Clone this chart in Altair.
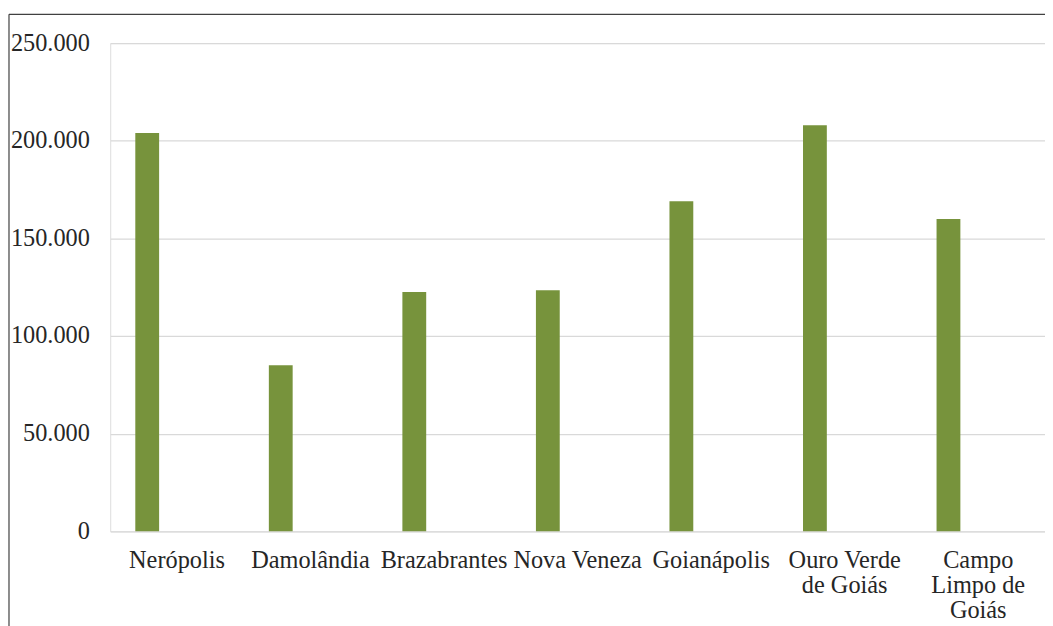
import altair as alt
import pandas as pd

municipios = ["Nerópolis", "Damolândia", "Brazabrantes", "Nova Veneza",
              "Goianápolis", "Ouro Verde de Goiás", "Campo Limpo de Goiás"]
valores = [204000, 85000, 122500, 123500, 169000, 208000, 160000]
rotulos = [["Nerópolis"], ["Damolândia"], ["Brazabrantes"], ["Nova Veneza"],
           ["Goianápolis"], ["Ouro Verde", "de Goiás"], ["Campo", "Limpo de", "Goiás"]]
y_ticks = [0, 50000, 100000, 150000, 200000, 250000]

df = pd.DataFrame({"municipio": municipios, "valor": valores})

parts = []
for m, r in zip(municipios, rotulos):
    arr = "[" + ",".join("'" + s + "'" for s in r) + "]"
    parts.append("datum.value == '" + m + "' ? " + arr + " : ")
label_expr = "".join(parts) + "datum.label"

FONT = "Liberation Serif"
TEXT = "#262626"

bars = alt.Chart(df).mark_bar(color="#77933C", width=24, xOffset=-30).encode(
    x=alt.X("municipio:N", sort=municipios,
            scale=alt.Scale(paddingInner=0, paddingOuter=0),
            axis=alt.Axis(title=None, labelExpr=label_expr, labelFont=FONT,
                          labelFontSize=24.5, labelColor=TEXT, labelLineHeight=25.5,
                          labelPadding=17, ticks=False, domain=False, labelAngle=0,
                          grid=False)),
    y=alt.Y("valor:Q", scale=alt.Scale(domain=[0, 250000], nice=False),
            axis=alt.Axis(title=None, values=y_ticks,
                          labelExpr="replace(format(datum.value, ',d'), ',', '.')",
                          labelFont=FONT, labelFontSize=24.5, labelColor=TEXT,
                          labelPadding=21, ticks=False, domain=False,
                          grid=True, gridColor="#D9D9D9", gridWidth=1.3)),
)

frame_df = pd.DataFrame({"k": [0]})
top_line = alt.Chart(frame_df).mark_rule(color="#404040", strokeWidth=1.2).encode(
    x=alt.value(-102), x2=alt.value(1000), y=alt.value(-29))
left_line = alt.Chart(frame_df).mark_rule(color="#404040", strokeWidth=1.2).encode(
    x=alt.value(-102), y=alt.value(-29), y2=alt.value(700))

chart = alt.layer(bars, top_line, left_line).properties(
    width=942, height=492,
    autosize=alt.AutoSizeParams(type="none"),
    padding={"left": 103, "top": 33, "right": 0, "bottom": 93},
).configure_view(stroke=None).configure(background="white", font=FONT)

chart.save("out.html", embed_options={"renderer": "svg", "actions": False})
